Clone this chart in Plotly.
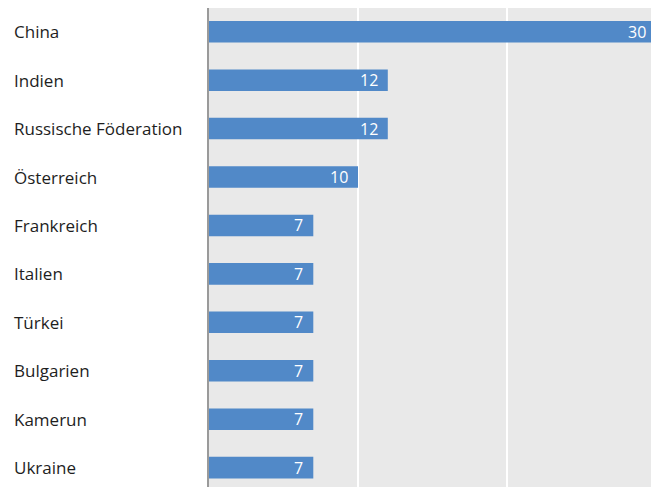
import plotly.graph_objects as go

countries = ["China", "Indien", "Russische Föderation", "Österreich", "Frankreich",
             "Italien", "Türkei", "Bulgarien", "Kamerun", "Ukraine"]
values = [30, 12, 12, 10, 7, 7, 7, 7, 7, 7]

FONT = "Open Sans"
W, H = 659, 487
# page body adds an 8px offset; margins compensate so the plot lands in place
L, R, T, B = 201, 11, 0, 8

fig = go.Figure(go.Bar(
    x=values, y=list(range(len(countries))), orientation="h",
    marker=dict(color="#5189c8", line=dict(width=0)),
    width=0.445, hoverinfo="skip",
))

annotations = []
for i, (c, v) in enumerate(zip(countries, values)):
    annotations.append(dict(
        x=(4 - L) / (W - L - R), xref="paper", y=i, yref="y",
        text=c, showarrow=False, xanchor="left", yanchor="middle",
        font=dict(family=FONT, size=17, color="#1e1e1e"),
    ))
    annotations.append(dict(
        x=v, xref="x", y=i, yref="y", text=str(v), showarrow=False,
        xanchor="right", yanchor="middle", xshift=-8,
        font=dict(family=FONT, size=16, color="white"),
    ))

fig.update_layout(
    width=W, height=H,
    margin=dict(l=L, r=R, t=T, b=B, pad=0),
    paper_bgcolor="white", plot_bgcolor="#e9e9e9",
    showlegend=False,
    annotations=annotations,
    xaxis=dict(range=[0, 30], tickvals=[10, 20], showticklabels=False,
               showgrid=True, gridcolor="white", gridwidth=2,
               zeroline=False, showline=False, fixedrange=True),
    yaxis=dict(range=[9.40, -0.49], showticklabels=False, showgrid=False,
               zeroline=False, showline=True, linecolor="#9a9a9a", linewidth=2,
               ticks="", fixedrange=True),
)

fig.write_html("out.html")
